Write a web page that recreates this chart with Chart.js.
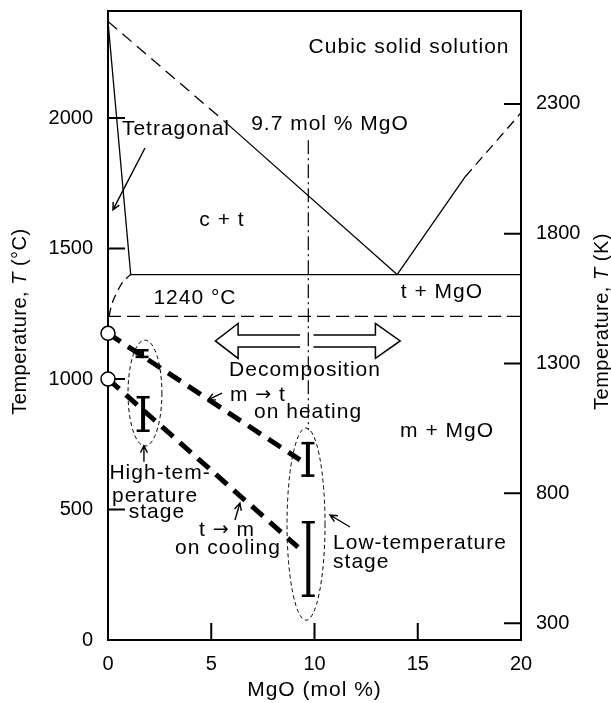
<!DOCTYPE html>
<html lang="en">
<head>
<meta charset="UTF-8">
<title>ZrO2-MgO phase diagram</title>
<script src="https://cdn.jsdelivr.net/npm/chart.js"></script>
</head>
<body style="margin:0; background:#fff;">
<div style="width:611px; height:703px;">
    <canvas id="phaseChart" width="611" height="703"></canvas>
</div>
<script>
// axes (x = MgO mol %, left = °C, right = K)
const xTicks = [0, 5, 10, 15, 20];
const celsiusTicks = [0, 500, 1000, 1500, 2000];
const kelvinTicks = [300, 800, 1300, 1800, 2300];

// phase boundaries (mol % MgO, °C)
const tetragonalX = [0, 1.1];
const tetragonalT = [2370, 1400];
const cubicDashX = [0, 5.6];
const cubicDashT = [2370, 1990];
const cubicSolidX = [5.6, 14];
const cubicSolidT = [1990, 1400];
const mgoSolidX = [14, 17.3];
const mgoSolidT = [1400, 1775];
const mgoDashX = [17.3, 20];
const mgoDashT = [1775, 2020];
const eutectoidX = [1.1, 20];
const eutectoidT = [1400, 1400];
const decompX = [0, 20];
const decompT = [1240, 1240];
const curveX = [0.05, 0.2, 0.45, 0.75, 1.1];
const curveT = [1240, 1290, 1335, 1375, 1400];
const compX = [9.7, 9.7];
const compT = [1915, 805];

// transformation lines
const heatingX = [0, 9.3];
const heatingT = [1175, 690];
const coolingX = [0, 9.2];
const coolingT = [1000, 356];
const circleX = [0, 0];
const circleT = [1175, 1000];

// measured ranges (I bars)
const barX = [1.65, 1.7, 9.68, 9.7];
const barLow = [1080, 797, 625, 165];
const barHigh = [1115, 935, 759, 456];

// stage ellipses
const ellipseX = [1.79, 9.59];
const ellipseT = [946, 444];
const ellipseRx = [0.82, 0.92];
const ellipseRy = [203, 368];

// decomposition double arrow
const arrowX = [5.2, 6.3, 9.3, 9.95, 12.95, 14.15];
const arrowT = 1146, arrowShaft = 23, arrowHead = 67;

// pointer arrows [fromX, fromT, toX, toT]
const pointers = [
    [1.79, 1885, 0.24, 1648],
    [1.74, 683, 1.74, 745],
    [5.52, 946, 4.84, 920],
    [6.15, 460, 6.39, 525],
    [11.72, 433, 10.75, 479]
];

// labels [text, x, T, align]
const labels = [
    ['Cubic solid solution', 14.58, 2272, 'center'],
    ['Tetragonal', 3.29, 1958, 'center'],
    ['9.7 mol % MgO', 10.75, 1977, 'center'],
    ['c + t', 5.52, 1609, 'center'],
    ['1240 °C', 4.21, 1310, 'center'],
    ['t + MgO', 16.17, 1333, 'center'],
    ['Decomposition', 9.54, 1034, 'center'],
    ['m → t', 7.26, 939, 'center'],
    ['on heating', 9.69, 874, 'center'],
    ['m + MgO', 16.42, 801, 'center'],
    ['High-tem-', 2.52, 640, 'center'],
    ['perature', 2.28, 552, 'center'],
    ['stage', 2.37, 490, 'center'],
    ['t → m', 5.76, 421, 'center'],
    ['on cooling', 5.81, 352, 'center'],
    ['Low-temperature', 10.9, 372, 'left'],
    ['stage', 10.9, 299, 'left']
];

const FAMILY = '"Liberation Sans", Arial, Helvetica, sans-serif';

function pts(xs, ts) {
    return xs.map((x, i) => ({ x: x, y: ts[i] }));
}

function line(xs, ts, extra) {
    return Object.assign({
        data: pts(xs, ts),
        showLine: true,
        pointRadius: 0,
        borderColor: '#000',
        borderWidth: 1.3,
        fill: false,
        tension: 0
    }, extra || {});
}

function pointer(ctx, x0, y0, x1, y1) {
    const a = Math.atan2(y1 - y0, x1 - x0);
    const h = 8;
    ctx.beginPath();
    ctx.moveTo(x0, y0);
    ctx.lineTo(x1, y1);
    ctx.moveTo(x1 - h * Math.cos(a - 0.45), y1 - h * Math.sin(a - 0.45));
    ctx.lineTo(x1, y1);
    ctx.lineTo(x1 - h * Math.cos(a + 0.45), y1 - h * Math.sin(a + 0.45));
    ctx.stroke();
}

// draw a run of [text, font] pieces, horizontally (rot = 0) or reading upwards
function richText(ctx, parts, cx, cy, align, rot) {
    ctx.save();
    ctx.translate(cx, cy);
    if (rot) ctx.rotate(rot);
    ctx.textBaseline = 'middle';
    ctx.textAlign = 'left';
    let total = 0;
    parts.forEach(p => { ctx.font = p[1]; total += ctx.measureText(p[0]).width; });
    let x = align === 'left' ? 0 : -total / 2;
    parts.forEach(p => {
        ctx.font = p[1];
        ctx.fillText(p[0], x, 0);
        x += ctx.measureText(p[0]).width;
    });
    ctx.restore();
}

const overlay = {
    id: 'overlay',
    beforeDatasetsDraw(chart) {
        const { ctx, chartArea: a, scales } = chart;
        ctx.save();
        ctx.strokeStyle = '#000';
        ctx.lineWidth = 2;
        ctx.strokeRect(a.left, a.top, a.right - a.left, a.bottom - a.top);
        // inward tick marks
        const len = 17;
        ctx.beginPath();
        celsiusTicks.slice(1).forEach(v => {
            const y = scales.y.getPixelForValue(v);
            ctx.moveTo(a.left, y); ctx.lineTo(a.left + len, y);
        });
        kelvinTicks.forEach(v => {
            const y = scales.yK.getPixelForValue(v);
            ctx.moveTo(a.right, y); ctx.lineTo(a.right - len, y);
        });
        xTicks.slice(1, -1).forEach(v => {
            const x = scales.x.getPixelForValue(v);
            ctx.moveTo(x, a.bottom); ctx.lineTo(x, a.bottom - len);
        });
        ctx.stroke();
        ctx.restore();
    },
    afterDatasetsDraw(chart) {
        const { ctx, chartArea: a, scales } = chart;
        const sx = scales.x, sy = scales.y;
        const px = v => sx.getPixelForValue(v);
        const py = v => sy.getPixelForValue(v);
        ctx.save();
        ctx.strokeStyle = '#000';
        ctx.fillStyle = '#000';

        // dashed ellipses
        ctx.lineWidth = 1;
        ctx.setLineDash([4, 3]);
        ellipseX.forEach((x, i) => {
            const cx = px(x), cy = py(ellipseT[i]);
            const rx = px(x + ellipseRx[i]) - cx;
            const ry = cy - py(ellipseT[i] + ellipseRy[i]);
            ctx.beginPath();
            ctx.ellipse(cx, cy, rx, ry, 0, 0, Math.PI * 2);
            ctx.stroke();
        });
        ctx.setLineDash([]);

        // I bars
        barX.forEach((x, i) => {
            const cx = px(x), y0 = py(barHigh[i]), y1 = py(barLow[i]);
            ctx.fillRect(cx - 2, y0, 4, y1 - y0);
            ctx.fillRect(cx - 6.5, y0, 13, 2.5);
            ctx.fillRect(cx - 6.5, y1 - 2.5, 13, 2.5);
        });

        // decomposition arrow
        ctx.lineWidth = 1.5;
        const yc = py(arrowT), ys = py(arrowT) - py(arrowT + arrowShaft), yh = py(arrowT) - py(arrowT + arrowHead);
        ctx.beginPath();
        ctx.moveTo(px(arrowX[2]), yc - ys);
        ctx.lineTo(px(arrowX[1]), yc - ys);
        ctx.lineTo(px(arrowX[1]), yc - yh);
        ctx.lineTo(px(arrowX[0]), yc);
        ctx.lineTo(px(arrowX[1]), yc + yh);
        ctx.lineTo(px(arrowX[1]), yc + ys);
        ctx.lineTo(px(arrowX[2]), yc + ys);
        ctx.moveTo(px(arrowX[3]), yc - ys);
        ctx.lineTo(px(arrowX[4]), yc - ys);
        ctx.lineTo(px(arrowX[4]), yc - yh);
        ctx.lineTo(px(arrowX[5]), yc);
        ctx.lineTo(px(arrowX[4]), yc + yh);
        ctx.lineTo(px(arrowX[4]), yc + ys);
        ctx.lineTo(px(arrowX[3]), yc + ys);
        ctx.stroke();

        // pointer arrows
        ctx.lineWidth = 1.4;
        pointers.forEach(p => pointer(ctx, px(p[0]), py(p[1]), px(p[2]), py(p[3])));

        // labels (arrow sign set in DejaVu, which draws a full-size arrow)
        ctx.letterSpacing = '1px';
        const lab = '21px ' + FAMILY, arr = '19px "DejaVu Sans", sans-serif';
        labels.forEach(l => {
            const bits = l[0].split('→');
            const parts = [];
            bits.forEach((b, i) => {
                if (i > 0) parts.push(['→', arr]);
                parts.push([b, lab]);
            });
            richText(ctx, parts, px(l[1]), py(l[2]), l[3], 0);
        });

        // axis titles (italic T)
        ctx.letterSpacing = '0.5px';
        const mid = (a.top + a.bottom) / 2 - 4;
        const reg = '20px ' + FAMILY, ital = 'italic 20px ' + FAMILY;
        richText(ctx, [['Temperature, ', reg], ['T', ital], [' (°C)', reg]], sy.left + 20, mid, 'center', -Math.PI / 2);
        richText(ctx, [['Temperature, ', reg], ['T', ital], [' (K)', reg]], scales.yK.right - 9, mid, 'center', -Math.PI / 2);
        ctx.letterSpacing = '1px';
        richText(ctx, [['MgO (mol %)', '21px ' + FAMILY]], (a.left + a.right) / 2, sx.bottom - 13, 'center', 0);
        ctx.restore();
    }
};

const tickFont = { family: FAMILY, size: 20 };
const plain = v => String(v);

new Chart(document.getElementById('phaseChart'), {
    type: 'scatter',
    data: {
        datasets: [
            { data: pts(circleX, circleT), pointRadius: 7, pointBackgroundColor: '#fff',
              pointBorderColor: '#000', pointBorderWidth: 1.5, showLine: false, clip: false },
            line(tetragonalX, tetragonalT),
            line(cubicDashX, cubicDashT, { borderDash: [12, 7] }),
            line(cubicSolidX, cubicSolidT),
            line(mgoSolidX, mgoSolidT),
            line(mgoDashX, mgoDashT, { borderDash: [10, 6] }),
            line(eutectoidX, eutectoidT),
            line(decompX, decompT, { borderDash: [13, 6] }),
            line(curveX, curveT, { borderDash: [9, 5], tension: 0.4 }),
            line(compX, compT, { borderDash: [14, 4, 2, 4], borderWidth: 1.2 }),
            line(heatingX, heatingT, { borderWidth: 5, borderDash: [15, 9] }),
            line(coolingX, coolingT, { borderWidth: 5, borderDash: [15, 9] })
        ]
    },
    options: {
        responsive: false,
        animation: false,
        events: [],
        layout: { padding: { top: 11, left: 0, right: 0, bottom: 0 } },
        plugins: { legend: { display: false }, tooltip: { enabled: false } },
        scales: {
            x: {
                type: 'linear', min: 0, max: 20,
                afterBuildTicks: s => { s.ticks = xTicks.map(v => ({ value: v })); },
                afterFit: s => { s.height = 63; s.paddingLeft = 0; s.paddingRight = 0; },
                grid: { display: false, drawTicks: false },
                border: { display: false },
                ticks: { padding: 12, color: '#000', font: tickFont, autoSkip: false, maxRotation: 0, callback: plain }
            },
            y: {
                position: 'left', min: 0, max: 2410,
                afterBuildTicks: s => { s.ticks = celsiusTicks.map(v => ({ value: v })); },
                afterFit: s => { s.width = 108; s.paddingTop = 0; s.paddingBottom = 0; },
                grid: { display: false, drawTicks: false },
                border: { display: false },
                ticks: { padding: 15, color: '#000', font: tickFont, callback: plain }
            },
            yK: {
                position: 'right', min: 235, max: 2658,
                afterBuildTicks: s => { s.ticks = kelvinTicks.map(v => ({ value: v })); },
                afterFit: s => { s.width = 90; s.paddingTop = 0; s.paddingBottom = 0; },
                grid: { display: false, drawTicks: false },
                border: { display: false },
                ticks: { padding: 15, color: '#000', font: tickFont, callback: plain }
            }
        }
    },
    plugins: [overlay]
});
</script>
</body>
</html>
